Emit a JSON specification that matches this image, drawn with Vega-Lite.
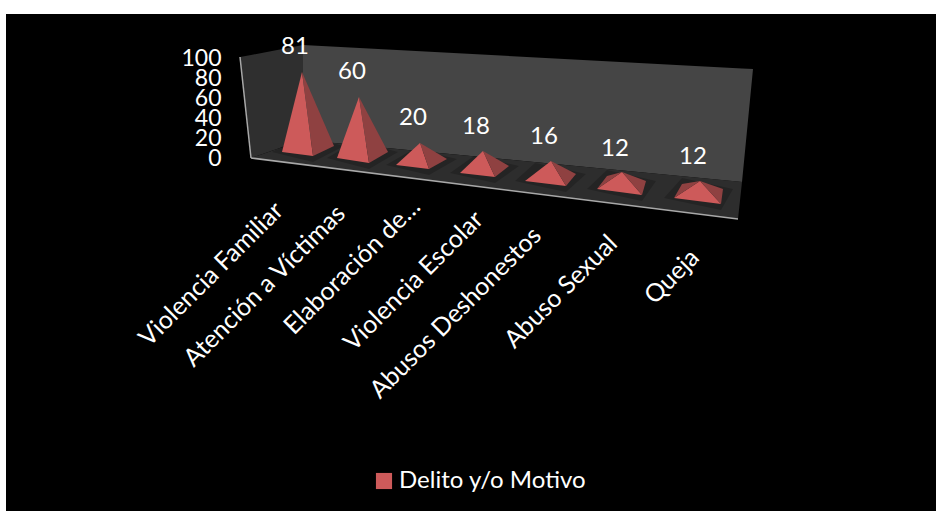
{"$schema":"https://vega.github.io/schema/vega-lite/v6.json","width":930,"height":497,"autosize":"none","padding":{"left":6,"top":14,"right":0,"bottom":0},"background":"#ffffff","view":{"fill":"#000000","stroke":null},
"resolve":{"scale":{"shape":"independent"}},
"datasets":{
"bars":[
{"category":"Violencia Familiar","value":81,"slot":296,"floor":2.5,"labelAt":111.5,"tickX":273,"tickY":-48},
{"category":"Atención a Víctimas","value":60,"slot":353,"floor":-4.5,"labelAt":86.5,"tickX":335,"tickY":-51},
{"category":"Elaboración de…","value":20,"slot":414,"floor":-10.5,"labelAt":40.5,"tickX":410,"tickY":-44},
{"category":"Violencia Escolar","value":18,"slot":477,"floor":-18.5,"labelAt":31.5,"tickX":473,"tickY":-57},
{"category":"Abusos Deshonestos","value":16,"slot":545,"floor":-27.5,"labelAt":21.5,"tickX":531,"tickY":-73},
{"category":"Abuso Sexual","value":12,"slot":616,"floor":-36.5,"labelAt":9.5,"tickX":607,"tickY":-81},
{"category":"Queja","value":12,"slot":694,"floor":-45.5,"labelAt":1.5,"tickX":689,"tickY":-95}],
"leftWall":[{"x":234,"top":101.5,"bottom":101.5},{"x":245,"top":103.5,"bottom":0.5},{"x":297,"top":113.5,"bottom":18.5}],
"backWall":[{"x":297,"top":113.5,"bottom":18.5},{"x":736,"top":90,"bottom":-23.5},{"x":747,"top":89.5,"bottom":89.5}],
"floor":[{"x":245,"top":0.5,"bottom":0.5},{"x":297,"top":18.5,"bottom":-6},{"x":732,"top":-23,"bottom":-60.5},{"x":736,"top":-23.5,"bottom":-23.5}],
"edges":[{"x":234,"y":101.5,"x2":245,"y2":0.5},{"x":245,"y":0.5,"x2":732,"y2":-60.5}]
},
"layer":[
{"data":{"name":"leftWall"},"mark":{"type":"area","orient":"vertical","color":"#2f2f2f"},"encoding":{"x":{"field":"x","type":"quantitative","scale":{"domain":[0,930],"nice":false},"axis":null},"y":{"field":"top","type":"quantitative","scale":{"domain":[-352.5,144.5],"nice":false},"axis":{"values":[0,20,40,60,80,100],"orient":"left","offset":-215,"grid":false,"ticks":false,"domain":false,"title":null,"labelFont":"Lato","labelFontSize":23,"labelColor":"#ffffff","labelPadding":0,"labelOverlap":false,"zindex":1}},"y2":{"field":"bottom"}}},
{"data":{"name":"backWall"},"mark":{"type":"area","orient":"vertical","color":"#454545"},"encoding":{"x":{"field":"x","type":"quantitative","scale":{"domain":[0,930],"nice":false},"axis":null},"y":{"field":"top","type":"quantitative","scale":{"domain":[-352.5,144.5],"nice":false}},"y2":{"field":"bottom"}}},
{"data":{"name":"floor"},"mark":{"type":"area","orient":"vertical","color":"#2d2d2d"},"encoding":{"x":{"field":"x","type":"quantitative","scale":{"domain":[0,930],"nice":false},"axis":null},"y":{"field":"top","type":"quantitative","scale":{"domain":[-352.5,144.5],"nice":false}},"y2":{"field":"bottom"}}},
{"data":{"name":"edges"},"mark":{"type":"rule","color":"#a8a8a8","strokeWidth":1.5},"encoding":{"x":{"field":"x","type":"quantitative","scale":{"domain":[0,930],"nice":false},"axis":null},"y":{"field":"y","type":"quantitative","scale":{"domain":[-352.5,144.5],"nice":false}},"x2":{"field":"x2"},"y2":{"field":"y2"}}},
{"data":{"name":"bars"},"mark":{"type":"point","filled":true,"size":4,"opacity":0.2,"stroke":null,"color":"#000000"},"encoding":{"x":{"field":"slot","type":"quantitative","scale":{"domain":[0,930],"nice":false},"axis":null},"y":{"field":"floor","type":"quantitative","scale":{"domain":[-352.5,144.5],"nice":false}},
"shape":{"field":"category","type":"nominal","legend":null,"scale":{"domain":["Violencia Familiar","Atención a Víctimas","Elaboración de…","Violencia Escolar","Abusos Deshonestos","Abuso Sexual","Queja"],"range":["M-30,-4L11,6L42,-10L1,-20Z","M-32,-5L10,6L39,-11L-3,-22Z","M-34,-4L9,6L37,-10L-6,-20Z","M-33,-4L12,6L36,-11L-9,-21Z","M-36,-5L15,6L35,-12L-16,-23Z","M-35,-6L20,6L34,-14L-15,-25Z","M-36,-6L21,6L33,-15L-18,-26Z"]}}}},
{"data":{"name":"bars"},"mark":{"type":"point","filled":true,"size":4,"opacity":1,"stroke":null},"encoding":{"x":{"field":"slot","type":"quantitative","scale":{"domain":[0,930],"nice":false},"axis":null},"y":{"field":"floor","type":"quantitative","scale":{"domain":[-352.5,144.5],"nice":false}},
"color":{"datum":"Delito y/o Motivo","scale":{"range":["#cd5a5a"]},"legend":{"orient":"none","legendX":366,"legendY":455,"title":null,"symbolType":"square","symbolSize":260,"symbolStrokeWidth":0,"labelFont":"Lato","labelFontSize":24,"labelColor":"#ffffff","labelOffset":3,"labelLimit":400}},
"shape":{"field":"category","type":"nominal","legend":null,"scale":{"domain":["Violencia Familiar","Atención a Víctimas","Elaboración de…","Violencia Escolar","Abusos Deshonestos","Abuso Sexual","Queja"],"range":["M0,-84L-20,-4L11,0Z","M0,-66L-22,-5L10,0Z","M0,-26L-24,-4L9,0Z","M0,-26L-23,-4L12,0Z","M0,-25L-26,-5L15,0Z","M0,-23L-25,-6L20,0Z","M0,-23L-26,-6L21,0Z"]}}}},
{"data":{"name":"bars"},"mark":{"type":"point","filled":true,"size":4,"opacity":1,"stroke":null,"color":"#8f4141"},"encoding":{"x":{"field":"slot","type":"quantitative","scale":{"domain":[0,930],"nice":false},"axis":null},"y":{"field":"floor","type":"quantitative","scale":{"domain":[-352.5,144.5],"nice":false}},
"shape":{"field":"category","type":"nominal","legend":null,"scale":{"domain":["Violencia Familiar","Atención a Víctimas","Elaboración de…","Violencia Escolar","Abusos Deshonestos","Abuso Sexual","Queja"],"range":["M0,-84L11,0L32,-10Z","M0,-66L10,0L29,-11Z","M0,-26L9,0L27,-10Z","M0,-26L12,0L26,-11Z","M0,-25L15,0L25,-12Z","M0,-23L20,0L24,-14ZM0,-23L-25,-6L-15,-19Z","M0,-23L21,0L23,-15ZM0,-23L-26,-6L-18,-20Z"]}}}},
{"data":{"name":"bars"},"mark":{"type":"text","font":"Lato","fontSize":24,"color":"#ffffff","dx":-7,"align":"center","baseline":"middle"},"encoding":{"x":{"field":"slot","type":"quantitative","scale":{"domain":[0,930],"nice":false},"axis":null},"y":{"field":"labelAt","type":"quantitative","scale":{"domain":[-352.5,144.5],"nice":false}},"text":{"field":"value","type":"quantitative"}}},
{"data":{"name":"bars"},"mark":{"type":"text","font":"Lato","fontSize":25,"color":"#ffffff","angle":315,"align":"right","baseline":"middle"},"encoding":{"x":{"field":"tickX","type":"quantitative","scale":{"domain":[0,930],"nice":false},"axis":null},"y":{"field":"tickY","type":"quantitative","scale":{"domain":[-352.5,144.5],"nice":false}},"text":{"field":"category","type":"nominal"}}}
]}
